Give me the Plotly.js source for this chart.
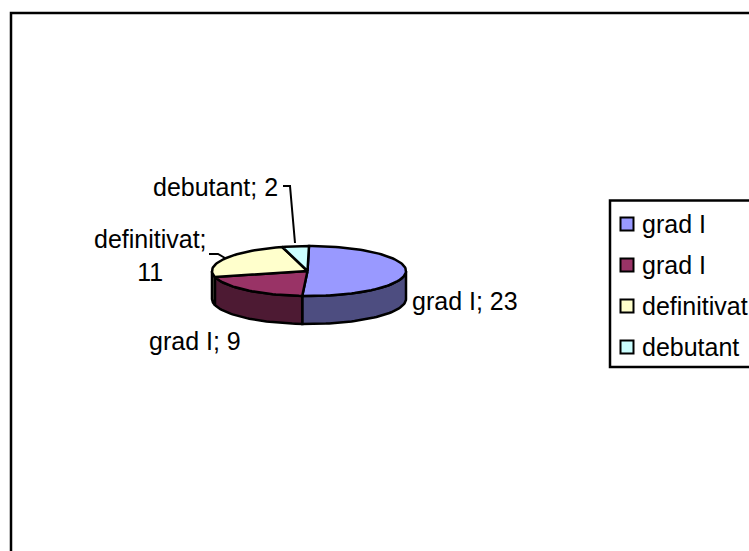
<!DOCTYPE html>
<html><head><meta charset="utf-8">
<script src="https://cdn.plot.ly/plotly-3.0.1.min.js"></script>
<style>html,body{margin:0;padding:0;background:#fff}</style></head>
<body><div id="chart" style="width:749px;height:551px"></div>
<script>
const categories = ['grad I','grad I','definitivat','debutant'];
const values = [23,9,11,2];
const topColors = ['#9999FF','#993366','#FFFFCC','#CCFFFF'];
const sideColors = ['#4D4D80','#4D1A33','#808066','#668080'];
const labelBreaks = ['; ','; ',';<br>','; '];

// Ellipse geometry of the tilted pie, in page-pixel axis units
const pie = {cx:309, cy:271, rx:97, ry:25, depth:28, apexDx:-1.5};
const FONT = 'Liberation Sans, Arial, sans-serif';
const FS = 25;
const total = values.reduce((a,b)=>a+b,0);
const pt = (deg,dy=0)=>[pie.cx+pie.rx*Math.sin(deg*Math.PI/180), pie.cy-pie.ry*Math.cos(deg*Math.PI/180)+dy];
function arc(a,b,dy=0){const n=Math.max(2,Math.ceil(Math.abs(b-a)/2));const o=[];for(let i=0;i<=n;i++)o.push(pt(a+(b-a)*i/n,dy));return o;}

const traces=[];
let acc=0;
const sectors=values.map(v=>{const a=acc/total*360;acc+=v;return [a,acc/total*360];});

// side walls (front half only: 90..270 degrees clockwise from top)
sectors.forEach(([a,b],i)=>{
  const s=Math.max(a,90), e=Math.min(b,270);
  if(e<=s) return;
  const poly=arc(s,e).concat(arc(e,s,pie.depth));poly.push(poly[0]);
  traces.push({type:'scatter',mode:'lines',x:poly.map(p=>p[0]),y:poly.map(p=>p[1]),fill:'toself',
    fillcolor:sideColors[i],line:{color:'#000',width:2.5},hoverinfo:'skip',showlegend:false});
});
// top faces
sectors.forEach(([a,b],i)=>{
  const poly=[[pie.cx+pie.apexDx,pie.cy]].concat(arc(a,b));poly.push(poly[0]);
  traces.push({type:'scatter',mode:'lines',x:poly.map(p=>p[0]),y:poly.map(p=>p[1]),fill:'toself',
    fillcolor:topColors[i],line:{color:'#000',width:2.5},name:categories[i],text:categories[i]+'; '+values[i],
    hoverinfo:'text',showlegend:false});
});
// leader lines
const leaderPaths=[[[283,186],[290,186],[295,243]],[[209,254],[218,254],[225,258]]];
leaderPaths.forEach(l=>traces.push({type:'scatter',mode:'lines',x:l.map(p=>p[0]),y:l.map(p=>p[1]),
  line:{color:'#000',width:2},hoverinfo:'skip',showlegend:false}));

// legend swatches
const legendRowY=[224,265,306,347];
traces.push({type:'scatter',mode:'markers',x:categories.map(()=>627),y:legendRowY,
  marker:{symbol:'square',size:13,color:topColors,line:{color:'#000',width:2}},hoverinfo:'skip',showlegend:false});

const labelPos=[[410,301,'left'],[147,341,'left'],[150,255,'center'],[151,187,'left']];
const annotations=categories.map((c,i)=>({x:labelPos[i][0],y:labelPos[i][1],xref:'x',yref:'y',showarrow:false,
  text:c+labelBreaks[i]+values[i],xanchor:labelPos[i][2],yanchor:'middle',align:'center',
  font:{family:FONT,size:FS,color:'#000'}}));
categories.forEach((c,i)=>annotations.push({x:640,y:legendRowY[i],xref:'x',yref:'y',showarrow:false,text:c,
  xanchor:'left',yanchor:'middle',font:{family:FONT,size:FS,color:'#000'}}));

const layout={width:749,height:551,margin:{l:0,r:0,t:0,b:0},paper_bgcolor:'#fff',plot_bgcolor:'#fff',showlegend:false,
  xaxis:{range:[0,749],visible:false,fixedrange:true},yaxis:{range:[551,0],visible:false,fixedrange:true},
  annotations,
  shapes:[
    {type:'path',path:'M 11 560 L 11 13 L 760 13',xref:'x',yref:'y',line:{color:'#000',width:2.5},layer:'below'},
    {type:'path',path:'M 760 200.5 L 610 200.5 L 610 367 L 760 367',xref:'x',yref:'y',line:{color:'#000',width:2.5},layer:'below'}
  ]};
Plotly.newPlot('chart',traces,layout,{displayModeBar:false});
</script></body></html>
